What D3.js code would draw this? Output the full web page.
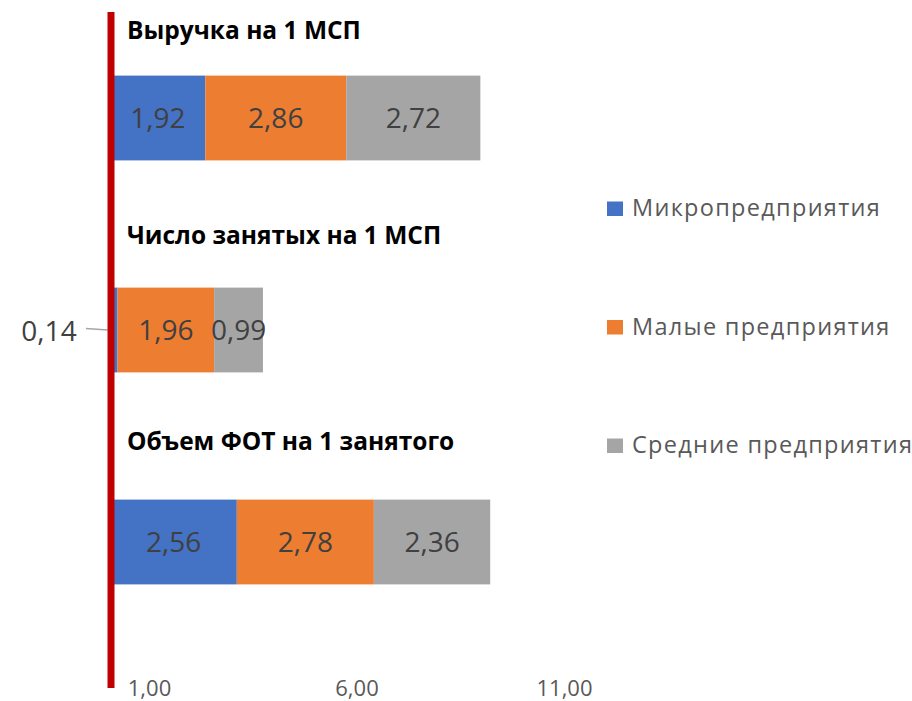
<!DOCTYPE html>
<html>
<head>
<meta charset="utf-8">
<script src="https://cdn.jsdelivr.net/npm/d3@7/dist/d3.min.js"></script>
<style>
  html, body { margin: 0; padding: 0; background: #ffffff; }
  svg { display: block; font-family: "Open Sans", "Liberation Sans", sans-serif; }
</style>
</head>
<body>
<svg id="chart" width="912" height="701"></svg>
<script>
// ---- data ----
const categories = ["Выручка на 1 МСП", "Число занятых на 1 МСП", "Объем ФОТ на 1 занятого"];
const seriesNames = ["Микропредприятия", "Малые предприятия", "Средние предприятия"];
const micro  = [1.92, 0.14, 2.56];
const small  = [2.86, 1.96, 2.78];
const medium = [2.72, 0.99, 2.36];
const tickValues = [1, 6, 11];
const tickLabels = ["1,00", "6,00", "11,00"];
const colors = ["#4472C4", "#ED7D31", "#A5A5A5"];

const fmt = v => v.toFixed(2).replace(".", ",");

const svg = d3.select("#chart");

const rows = categories.map((c, i) => ({ cat: c, micro: micro[i], small: small[i], medium: medium[i] }));
const keys = ["micro", "small", "medium"];
const stack = d3.stack().keys(keys)(rows);

const x = d3.scaleLinear().domain([0, 10]).range([110.6, 603.6]);
const xAxisScale = d3.scaleLinear().domain([0, 10]).range([107.5, 522.5]);
const y = d3.scaleBand().domain(categories).range([12, 648]).paddingInner(0.6).paddingOuter(0.3);
const yTitle = d3.scalePoint().domain(categories).range([38.5, 450]);

// bars
const g = svg.append("g");
stack.forEach((layer, li) => {
  g.selectAll(null).data(layer).enter().append("rect")
    .attr("x", d => x(d[0]))
    .attr("y", d => y(d.data.cat))
    .attr("width", d => x(d[1]) - x(d[0]))
    .attr("height", y.bandwidth())
    .attr("fill", colors[li]);
});

// data labels
stack.forEach((layer, li) => {
  layer.forEach(d => {
    const v = d[1] - d[0];
    const cy = y(d.data.cat) + y.bandwidth() / 2;
    if (v < 0.5) {
      g.append("line")
        .attr("x1", 86).attr("y1", cy - 1.5)
        .attr("x2", x(d[0]) - 3).attr("y2", cy)
        .attr("stroke", "#A6A6A6").attr("stroke-width", 1.3);
      g.append("text")
        .attr("x", 49).attr("y", cy + 11)
        .attr("text-anchor", "middle")
        .attr("font-size", 28).attr("fill", "#404040")
        .text(fmt(v));
    } else {
      g.append("text")
        .attr("x", (x(d[0]) + x(d[1])) / 2)
        .attr("y", cy + 10)
        .attr("text-anchor", "middle")
        .attr("font-size", 28).attr("fill", "#404040")
        .text(fmt(v));
    }
  });
});

// red vertical axis line
svg.append("line")
  .attr("x1", 111).attr("x2", 111)
  .attr("y1", 12).attr("y2", 688)
  .attr("stroke", "#C00000").attr("stroke-width", 7);

// category titles
svg.selectAll(".title").data(categories).enter().append("text")
  .attr("class", "title")
  .attr("x", 127)
  .attr("y", d => yTitle(d))
  .attr("font-size", 24.5).attr("font-weight", "bold").attr("fill", "#000")
  .text(d => d);

// x tick labels
const axis = d3.axisBottom(xAxisScale).tickValues(tickValues)
  .tickFormat((d, i) => tickLabels[i]).tickSize(0).tickPadding(0);
const ag = svg.append("g").attr("transform", "translate(0,688)").call(axis);
ag.select(".domain").remove();
ag.selectAll("text")
  .attr("dy", null).attr("y", 8)
  .attr("font-size", 22).attr("fill", "#595959")
  .attr("font-family", "'Open Sans', 'Liberation Sans', sans-serif");

// legend
const legY = d3.scalePoint().domain(seriesNames).range([216, 453]);
const lg = svg.append("g");
seriesNames.forEach((s, i) => {
  lg.append("rect")
    .attr("x", 607).attr("y", legY(s) - 14.5)
    .attr("width", 16).attr("height", 14.5)
    .attr("fill", colors[i]);
  lg.append("text")
    .attr("x", 632).attr("y", legY(s))
    .attr("font-size", 23.5).attr("letter-spacing", 1.3).attr("fill", "#595959")
    .text(s);
});
</script>
</body>
</html>
